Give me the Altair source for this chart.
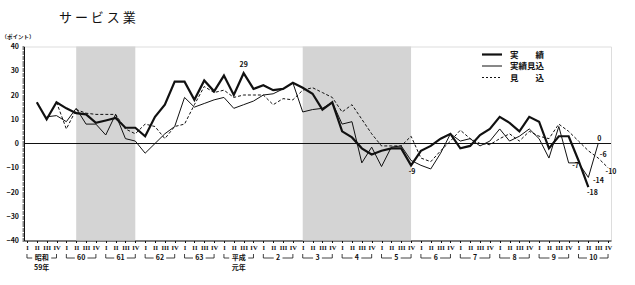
import altair as alt
import pandas as pd

FONT = "Noto Sans CJK JP"
INK = "#111111"

# ---------------- data ----------------
quarter_labels = ["I", "II", "III", "IV"]
year_labels = ["昭和", "60", "61", "62", "63", "平成", "2", "3", "4", "5", "6", "7", "8", "9", "10"]
year_sublabels = ["59年", "", "", "", "", "元年", "", "", "", "", "", "", "", "", ""]
series_names = ["実　　績", "実績見込", "見　　込"]

# quarter index 0 = 昭和59年 I
actual_start = 1
actual = [17, 10, 17, 14.5, 12.5, 12, 8.5, 9.5, 10.5, 6.5,
          6.5, 3, 11, 16, 25.5, 25.5, 18, 26, 21.5, 28,
          20, 29, 22.5, 24, 22, 22.5, 25, 23, 20.5, 14,
          17, 5, 2.5, -2, -4.5, -3, -2, -2, -9, -3,
          -1, 2, 4, -2, -1, 3.5, 6, 11, 8.5, 5,
          11, 9, -2, 3, 3, -7, -18]
estimate_start = 2
estimate = [11, 11.5, 9, 14.5, 8, 8, 3.5, 12, 2,
            1, -4, 0, 4, 7, 19, 15, 16.5, 18, 19,
            14.5, 16, 17.5, 20, 20.5, 22.5, 25, 13, 14, 14.5,
            17, 8, 9, -8, -1.5, -9.5, -1.5, -1, -7, -9,
            -10.5, -4, 4, 1, 2, -1, 1, 6, 1, 3,
            6, 2, -6, 7, -8, -8, -14, 0]
forecast_start = 3
forecast = [17, 6, 14, 12.5, 12, 12, 12, 6,
            4, 8, 7, 2, 7, 8, 16, 23.5, 21, 22,
            19, 20, 20, 20, 16, 18.5, 18, 22, 23, 21,
            19, 13, 16, 10, 4, -1, -1, -1, 3, -6,
            -7.5, -3, 1, 5.5, 2, 0, -0.5, 2, 4, 1,
            5, 3, 2, 8, 5, 1, -3, -6, -10]

shade_start = [5, 28]
shade_end = [11, 39]

note_idx = [22, 39, 56, 57, 57, 58, 58, 59]
note_val = [29, -9, -7, -18, -14, 0, -6, -10]
note_text = ["29", "-9", "-7", "-18", "-14", "0", "-6", "-10"]

# ---------------- tables ----------------
rows = []
for name, start, vals in [(series_names[0], actual_start, actual),
                          (series_names[1], estimate_start, estimate),
                          (series_names[2], forecast_start, forecast)]:
    for i, v in enumerate(vals):
        rows.append({"idx": start + i, "value": v, "series": name})
df = pd.DataFrame(rows)

shade_df = pd.DataFrame({"s": shade_start, "e": shade_end})

yr_rows = []
for k, (lab, sub) in enumerate(zip(year_labels, year_sublabels)):
    n_cjk = sum(1 for ch in lab if not ch.isdigit())
    n_dig = len(lab) - n_cjk
    half_px = (n_cjk * 7 + n_dig * 3.8) / 2 + 2.5
    gap = half_px / 9.85
    mid = 4 * k + 1.5
    yr_rows.append({"label": lab, "sub": sub, "start": 4 * k, "end": 4 * k + 3,
                    "mid": mid, "l_end": mid - gap, "r_start": mid + gap})
yr_df = pd.DataFrame(yr_rows)

notes_df = pd.DataFrame({"idx": note_idx, "value": note_val, "text": note_text})

# ---------------- scales / axes ----------------
xscale = alt.Scale(domain=[-0.3, 59.3], nice=False, zero=False)
yscale = alt.Scale(domain=[-40, 40], nice=False, zero=False)
qexpr = "[" + ",".join("'%s'" % q for q in quarter_labels) + "][datum.value % 4]"

xaxis = alt.Axis(values=list(range(60)), labelExpr=qexpr, tickSize=2, labelPadding=2,
                 labelFontSize=6.5, labelFont="Liberation Serif", labelFontWeight="bold",
                 labelColor=INK, domainColor=INK, tickColor=INK, title=None, grid=False,
                 labelAngle=0, labelOverlap=False, labelFlush=False)
yaxis = alt.Axis(values=list(range(-40, 41)),
                 labelExpr="datum.value % 10 === 0 ? datum.label : ''",
                 tickSize=2, labelPadding=3.5, labelFontSize=7, labelFont=FONT,
                 labelFontWeight="bold", labelColor=INK, domainColor=INK, tickColor=INK,
                 grid=False, labelOverlap=False, labelFlush=False,
                 title="（ポイント）", titleAngle=0, titleX=-23, titleY=-10, titleAlign="left",
                 titleBaseline="middle", titleFontSize=5.5, titleFont=FONT,
                 titleFontWeight="bold", titleColor=INK)

X = alt.X("idx:Q", scale=xscale, axis=xaxis)
Y = alt.Y("value:Q", scale=yscale, axis=yaxis)

# ---------------- layers ----------------
shade = alt.Chart(shade_df).mark_rect(color="#d4d4d4").encode(
    x=alt.X("s:Q", scale=xscale, axis=xaxis), x2="e:Q",
    y=alt.Y("top:Q", scale=yscale, axis=yaxis), y2="bot:Q"
).transform_calculate(top="40", bot="-40")

zero = alt.Chart(pd.DataFrame({"z": [0]})).mark_rule(color=INK, strokeWidth=1).encode(
    y=alt.Y("z:Q", scale=yscale, axis=yaxis))


def line_layer(name, width, dash=None):
    kw = dict(color=INK, strokeWidth=width)
    if dash is not None:
        kw["strokeDash"] = dash
    return alt.Chart(df).transform_filter(alt.datum.series == name).mark_line(**kw).encode(
        x=X, y=Y, order="idx:Q")


lines = [line_layer(series_names[2], 1.0, [3, 2]),
         line_layer(series_names[1], 1.0),
         line_layer(series_names[0], 2.2)]

note_offsets = [(0, -8), (1, 7), (-3, 6), (4, 6), (10, 3.5), (1, -5), (5, -3), (3, 4)]
notes = []
for i, (dx, dy) in enumerate(note_offsets):
    notes.append(alt.Chart(notes_df.iloc[[i]]).mark_text(
        font=FONT, fontSize=7, fontWeight="bold", color=INK, dx=dx, dy=dy,
        baseline="middle", align="center").encode(x=X, y=Y, text="text:N"))

# legend (drawn by hand)
leg_rows_y = [8, 19.5, 31]
leg_styles = [(2.2, None), (1.0, None), (1.0, [2, 2])]
legend_layers = []
for name, yy, (w, dash) in zip(series_names, leg_rows_y, leg_styles):
    ldf = pd.DataFrame({"name": [name]})
    kw = dict(color=INK, strokeWidth=w)
    if dash is not None:
        kw["strokeDash"] = dash
    legend_layers.append(alt.Chart(ldf).mark_rule(**kw).encode(
        x=alt.value(458), x2=alt.value(478), y=alt.value(yy)))
    legend_layers.append(alt.Chart(ldf).mark_text(
        font=FONT, fontSize=8.5, fontWeight="bold", color=INK, align="left",
        baseline="middle").encode(x=alt.value(486), y=alt.value(yy), text="name:N"))

# year brackets under the quarter labels
XB = lambda f: alt.X(f, scale=xscale, axis=xaxis)
br_y = 211.5
br_top = 207.5
brackets = [
    alt.Chart(yr_df).mark_rule(color=INK, strokeWidth=0.8).encode(
        x=XB("start:Q"), x2="l_end:Q", y=alt.value(br_y)),
    alt.Chart(yr_df).mark_rule(color=INK, strokeWidth=0.8).encode(
        x=XB("r_start:Q"), x2="end:Q", y=alt.value(br_y)),
    alt.Chart(yr_df).mark_rule(color=INK, strokeWidth=0.8).encode(
        x=XB("start:Q"), y=alt.value(br_top), y2=alt.value(br_y)),
    alt.Chart(yr_df).mark_rule(color=INK, strokeWidth=0.8).encode(
        x=XB("end:Q"), y=alt.value(br_top), y2=alt.value(br_y)),
    alt.Chart(yr_df).mark_text(font=FONT, fontSize=7, fontWeight="bold", color=INK,
                               baseline="middle").encode(
        x=XB("mid:Q"), y=alt.value(br_y), text="label:N"),
    alt.Chart(yr_df).mark_text(font=FONT, fontSize=7, fontWeight="bold", color=INK,
                               baseline="middle").encode(
        x=XB("mid:Q"), y=alt.value(221.5), text="sub:N"),
]

chart = alt.layer(shade, zero, *lines, *notes, *legend_layers, *brackets).properties(
    width=587, height=194,
    title=alt.TitleParams("サ ー ビ ス 業", anchor="start", frame="group", dx=35, offset=10,
                          fontSize=13, font=FONT, fontWeight="normal", color=INK),
    autosize=alt.AutoSizeParams(type="none"),
    padding={"left": 24, "top": 46.5, "right": 24, "bottom": 44.5},
).configure_view(stroke=None).configure(background="white")

chart.save("out.html", embed_options={"renderer": "svg", "actions": False})
